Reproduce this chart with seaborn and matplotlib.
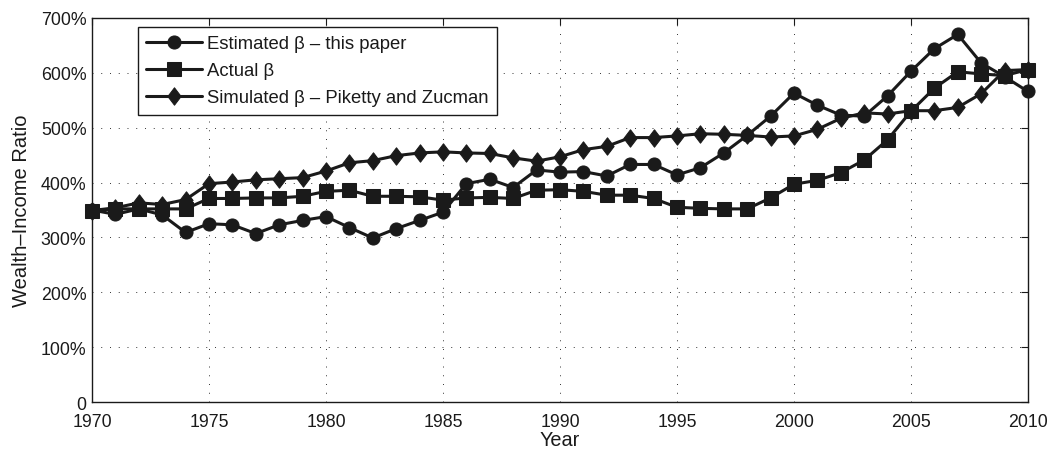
import matplotlib
matplotlib.use("Agg")
import matplotlib.pyplot as plt
import matplotlib.ticker as mticker
from matplotlib.path import Path
import seaborn as sns

years = list(range(1970, 2011))

# Wealth-income ratios in percent
estimated = [350, 342, 352, 341, 309, 325, 323, 307, 323, 331, 338, 318, 299, 316, 331, 346,
             398, 406, 391, 423, 419, 420, 412, 433, 433, 414, 427, 454, 486, 521, 563,
             541, 523, 521, 558, 603, 644, 670, 618, 593, 566]
actual = [349, 352, 352, 352, 352, 371, 371, 372, 372, 375, 384, 386, 375, 375, 374, 368,
          372, 373, 371, 386, 387, 384, 377, 377, 371, 355, 353, 352, 352, 372, 397,
          404, 418, 441, 478, 530, 572, 602, 598, 595, 606]
simulated = [349, 354, 363, 360, 369, 398, 401, 405, 407, 409, 421, 436, 440, 449, 454, 456,
             454, 453, 445, 439, 447, 460, 466, 482, 482, 485, 489, 488, 486, 483, 485,
             497, 517, 527, 525, 531, 531, 537, 562, 604, 606]

labels = ["Estimated \u03b2 \u2013 this paper", "Actual \u03b2",
          "Simulated \u03b2 \u2013 Piketty and Zucman"]

sns.set_theme(style="white")
plt.rcParams['font.family'] = ['Liberation Sans', 'DejaVu Sans']
plt.rcParams['text.color'] = 'k'
plt.rcParams['axes.labelcolor'] = 'k'

# matlab-style diamond, a bit taller than wide
diamond = Path([(0, 1), (0.76, 0), (0, -1), (-0.76, 0), (0, 1)],
               [Path.MOVETO, Path.LINETO, Path.LINETO, Path.LINETO, Path.CLOSEPOLY])

fig = plt.figure(figsize=(10.5, 4.52), dpi=100)
ax = fig.add_axes([0.0876, 0.1084, 0.8914, 0.8496])

kw = dict(ax=ax, color='k', lw=2.2, markeredgecolor='k', clip_on=False)
sns.lineplot(x=years, y=estimated, marker='o', markersize=9.4, label=labels[0], **kw)
sns.lineplot(x=years, y=actual, marker='s', markersize=10, label=labels[1], **kw)
sns.lineplot(x=years, y=simulated, marker=diamond, markersize=12.5, label=labels[2], **kw)

ax.set_xlim(1970, 2010)
ax.set_ylim(0, 700)
ax.set_xticks(range(1970, 2011, 5))
ax.set_yticks(range(0, 701, 100))
ax.yaxis.set_major_formatter(mticker.FuncFormatter(lambda v, p: "0" if v == 0 else "%d%%" % v))
ax.tick_params(direction='in', top=True, right=True, length=5, width=0.8,
               labelsize=12.8, colors='k', pad=4)
ax.tick_params(axis='x', pad=8)
ax.grid(True, color='#333333', linestyle=(0, (1, 8)), lw=0.7)
for s in ax.spines.values():
    s.set_color('k')
    s.set_linewidth(1)

ax.set_xlabel("Year", fontsize=14.3, labelpad=0)
ax.set_ylabel("Wealth\u2013Income Ratio", fontsize=14.5, labelpad=7)

leg = ax.legend(loc='upper left', bbox_to_anchor=(0.049, 0.977), borderaxespad=0,
                fontsize=13.3, fancybox=False, framealpha=1, edgecolor='k',
                handlelength=3.0, handletextpad=0.3, labelspacing=0.55, borderpad=0.45)
leg.get_frame().set_linewidth(1)
leg.set_zorder(5)

fig.savefig("out.png", dpi=100)
